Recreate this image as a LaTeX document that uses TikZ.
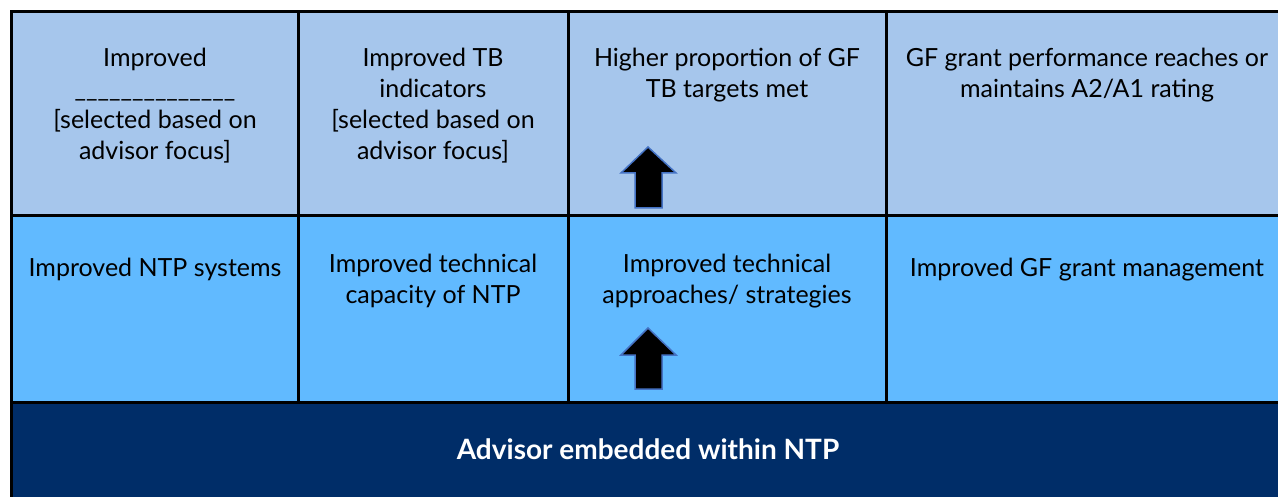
\documentclass[tikz,border=0pt]{standalone}
\usepackage{fontspec}
\setmainfont{Lato}

\definecolor{outcome}{RGB}{166,198,236}
\definecolor{output}{RGB}{97,186,255}
\definecolor{input}{RGB}{0,45,104}
\definecolor{rim}{RGB}{68,114,196}

\begin{document}
\begin{tikzpicture}[x=0.5pt,y=-0.5pt,
            every node/.style={inner sep=0pt,anchor=north,align=center,
                font=\fontsize{12.5}{15.5}\selectfont,execute at begin node=\strut},
            grid/.style={line width=1.5pt},
            uparrow/.style={fill=black,draw=rim,line width=0.75pt}]
    \useasboundingbox (0,0) rectangle (1278,497);

    % three bands
    \fill[outcome] (11,12) rectangle (1278,216);
    \fill[output] (11,216) rectangle (1278,402);
    \fill[input] (11,402) rectangle (1278,497);

    \draw[grid] (1278,12) -- (11,12) -- (11,497);
    \draw[grid] (11,216) -- (1278,216);
    \draw[grid] (11,402) -- (1278,402);
    \foreach \x in {298,568,886}
        \draw[grid] (\x,12) -- (\x,402);

    % outcomes
    \node(o1) at (155,48) {Improved\\\_\_\_\_\_\_\_\_\_\_\_\_\_\_\\{}[selected based on\\advisor focus]};
    \node(o2) at (433,48) {Improved TB\\indicators\\{}[selected based on\\advisor focus]};
    \node(o3) at (727,48) {Higher proportion of GF\\TB targets met};
    \node(o4) at (1087,48) {GF grant performance reaches or\\maintains A2/A1 rating};

    % outputs
    \node(p1) at (155,254) {Improved NTP systems};
    \node(p2) at (433,254) {Improved technical\\capacity of NTP};
    \node(p3) at (727,254) {Improved technical\\approaches/ strategies};
    \node(p4) at (1087,254) {Improved GF grant management};

    % input
    \node[text=white,font=\fontsize{14}{17}\selectfont\bfseries](adv) at (648,435) {Advisor embedded within NTP};

    \draw[uparrow] (648,147) -- (676,173) -- (662,173) -- (662,208) -- (635,208) -- (635,173) -- (621,173) -- cycle;
    \draw[uparrow] (648,328) -- (676,355) -- (662,355) -- (662,389) -- (635,389) -- (635,355) -- (621,355) -- cycle;
\end{tikzpicture}
\end{document}
